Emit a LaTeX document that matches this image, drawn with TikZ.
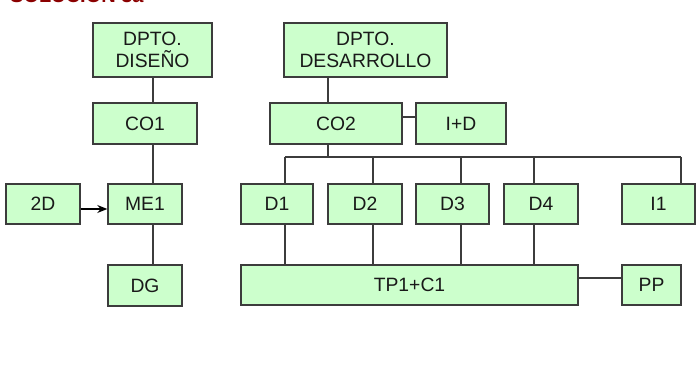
\documentclass[tikz,border=0pt]{standalone}
\usepackage{fontspec}
\setmainfont{Liberation Sans}
\usetikzlibrary{arrows.meta}
\definecolor{boxfill}{HTML}{CCFFCC}
\definecolor{boxdraw}{HTML}{3C3C3C}
\definecolor{titlered}{HTML}{8B0000}
\tikzset{
  box/.style={draw=boxdraw, fill=boxfill, line width=1.4pt, rectangle, inner sep=0pt,
    align=center, text=black!90, font=\fontsize{19.3}{21.5}\selectfont},
  conn/.style={draw=boxdraw, line width=1.4pt},
  arr/.style={draw=black, line width=1.2pt, -{Stealth[length=10pt,width=8pt]}}
}
\begin{document}
\begin{tikzpicture}[x=1pt,y=-1pt]
\useasboundingbox (0,0) rectangle (697,366);
\fill[white] (0,0) rectangle (697,366);
\begin{scope}
\clip (0,0) rectangle (697,366);
\node[anchor=base west, inner sep=0pt, text=titlered, font=\bfseries\fontsize{20}{24}\selectfont] (title) at (10,2.5) {SOLUCIÓN 3a};
\end{scope}
% left branch
\node[box, minimum width=119pt, minimum height=54pt] (dis) at (152.5,50) {DPTO.\\DISEÑO};
\node[box, minimum width=104pt, minimum height=41pt] (co1) at (145,123.5) {CO1};
\node[box, minimum width=74pt, minimum height=40pt] (me1) at (145,204) {ME1};
\node[box, minimum width=74pt, minimum height=40pt] (twod) at (43,204) {2D};
\node[box, minimum width=74pt, minimum height=41pt] (dg) at (145,285.5) {DG};
% right branch
\node[box, minimum width=163pt, minimum height=54pt] (des) at (365.5,50) {DPTO.\\DESARROLLO};
\node[box, minimum width=132pt, minimum height=41pt] (co2) at (336,123.5) {CO2};
\node[box, minimum width=90pt, minimum height=41pt] (id) at (461,123.5) {I+D};
\node[box, minimum width=72pt, minimum height=40pt] (d1) at (277,204) {D1};
\node[box, minimum width=74pt, minimum height=40pt] (d2) at (365,204) {D2};
\node[box, minimum width=73pt, minimum height=40pt] (d3) at (452.5,204) {D3};
\node[box, minimum width=74pt, minimum height=40pt] (d4) at (541,204) {D4};
\node[box, minimum width=73pt, minimum height=40pt] (i1) at (658.5,204) {I1};
\node[box, minimum width=337pt, minimum height=40pt] (tp) at (409.5,285) {TP1+C1};
\node[box, minimum width=59pt, minimum height=40pt] (pp) at (651.5,285) {PP};
% coordinates for connector columns
\coordinate (lx) at (153,0);
\coordinate (bx) at (328,157);
\coordinate (x1) at (285,157);
\coordinate (x2) at (373,157);
\coordinate (x3) at (461,157);
\coordinate (x4) at (534,157);
\coordinate (x5) at (681,157);
\coordinate (ay) at (0,209);
\coordinate (py) at (0,278);
\coordinate (iy) at (0,117);
% left connectors
\draw[conn] (dis.south -| lx) -- (co1.north -| lx);
\draw[conn] (co1.south -| lx) -- (me1.north -| lx);
\draw[conn] (me1.south -| lx) -- (dg.north -| lx);
\draw[arr] (twod.east |- ay) -- (me1.west |- ay);
% right connectors
\draw[conn] (des.south -| bx) -- (co2.north -| bx);
\draw[conn] (co2.south -| bx) -- (bx);
\draw[conn] (co2.east |- iy) -- (id.west |- iy);
\draw[conn] (x1) -- (x5);
\draw[conn] (x1) -- (d1.north -| x1);
\draw[conn] (x2) -- (d2.north -| x2);
\draw[conn] (x3) -- (d3.north -| x3);
\draw[conn] (x4) -- (d4.north -| x4);
\draw[conn] (x5) -- (i1.north -| x5);
\draw[conn] (d1.south -| x1) -- (tp.north -| x1);
\draw[conn] (d2.south -| x2) -- (tp.north -| x2);
\draw[conn] (d3.south -| x3) -- (tp.north -| x3);
\draw[conn] (d4.south -| x4) -- (tp.north -| x4);
\draw[conn] (tp.east |- py) -- (pp.west |- py);
\end{tikzpicture}
\end{document}
